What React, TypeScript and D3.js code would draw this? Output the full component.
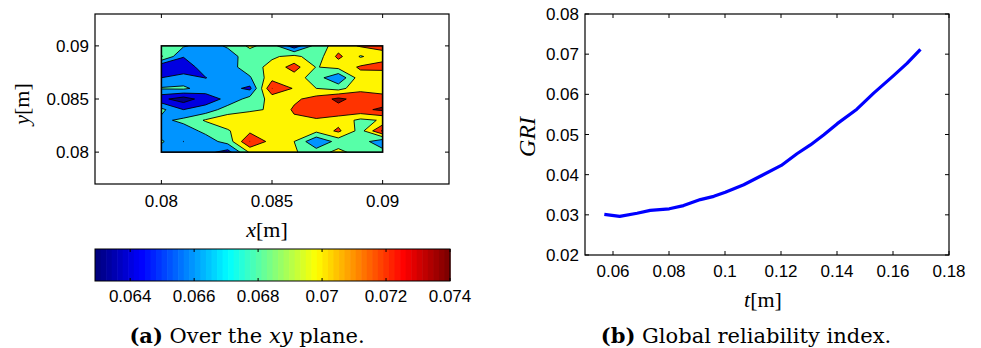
import React from 'react';
import * as d3 from 'd3';

// sample positions of the field over the plate (top row first)
const gridX = [0.08, 0.081, 0.082, 0.083, 0.084, 0.085, 0.086, 0.087, 0.088, 0.089, 0.09];
const gridY = [0.09, 0.089, 0.088, 0.087, 0.086, 0.085, 0.084, 0.083, 0.082, 0.081, 0.08];

// reliability index, one row per y (top to bottom)
const fieldRows = [
  [0.069, 0.0682, 0.0673, 0.0682, 0.0704, 0.069, 0.0648, 0.0688, 0.071, 0.0722, 0.0726],
  [0.0702, 0.0661, 0.0668, 0.0673, 0.0688, 0.0697, 0.0706, 0.0688, 0.0725, 0.0698, 0.0712],
  [0.064, 0.0648, 0.067, 0.0672, 0.069, 0.0707, 0.0728, 0.0699, 0.0706, 0.0723, 0.0728],
  [0.066, 0.0667, 0.06595, 0.067, 0.0678, 0.0712, 0.0711, 0.0689, 0.0663, 0.0712, 0.0702],
  [0.0682, 0.0684, 0.067, 0.0668, 0.0655, 0.07402, 0.0718, 0.07, 0.0692, 0.0715, 0.0712],
  [0.0645, 0.063, 0.065, 0.0665, 0.0688, 0.0706, 0.0716, 0.0728, 0.0745, 0.0731, 0.0727],
  [0.0685, 0.066, 0.0668, 0.069, 0.0697, 0.0702, 0.0723, 0.073, 0.0732, 0.0735, 0.0744],
  [0.0675, 0.0685, 0.0702, 0.0712, 0.0713, 0.071, 0.0716, 0.0718, 0.0712, 0.0695, 0.0702],
  [0.0668, 0.067, 0.0685, 0.0698, 0.0715, 0.071, 0.0705, 0.0705, 0.0724, 0.0692, 0.0743],
  [0.0683, 0.06598, 0.067, 0.0688, 0.07402, 0.0712, 0.07, 0.0662, 0.0688, 0.069, 0.0665],
  [0.0668, 0.0672, 0.0667, 0.0652, 0.0703, 0.071, 0.0702, 0.069, 0.0706, 0.069, 0.0688],
];
const contourLevels = [0.064, 0.066, 0.068, 0.07, 0.072, 0.074];
const colorLimits = [0.0629, 0.074];
const colorbarTicks = [0.064, 0.066, 0.068, 0.07, 0.072, 0.074];
const planeTicks = [0.08, 0.085, 0.09];

// global reliability index against thickness
const tValues = [0.0569, 0.0624, 0.0686, 0.0733, 0.0801, 0.0852, 0.0912, 0.096, 0.1001, 0.1067, 0.1126,
  0.1201, 0.1257, 0.1305, 0.1352, 0.1401, 0.1471, 0.1531, 0.1601, 0.165, 0.1698];
const griValues = [0.0301, 0.0296, 0.0304, 0.0311, 0.0315, 0.0323, 0.0338, 0.0346, 0.0356, 0.0375, 0.0396,
  0.0423, 0.0452, 0.0474, 0.0499, 0.0527, 0.0563, 0.0603, 0.0646, 0.0677, 0.0712];
const tTicks = [0.06, 0.08, 0.1, 0.12, 0.14, 0.16, 0.18];
const griTicks = [0.02, 0.03, 0.04, 0.05, 0.06, 0.07, 0.08];

const SANS = '"Liberation Sans", Arial, sans-serif';
const SERIF = '"Liberation Serif", "Times New Roman", serif';
const CAPTION = '"DejaVu Serif", serif';
const fmt = (v: number) => String(+v.toFixed(4));

// matlab jet, 64 entries
const jet = (t: number) => {
  const c = (v: number) => Math.round(255 * Math.max(0, Math.min(1, v)));
  return `rgb(${c(Math.min(4 * t - 1.5, -4 * t + 4.5))},${c(Math.min(4 * t - 0.5, -4 * t + 3.5))},${c(Math.min(4 * t + 0.5, -4 * t + 2.5))})`;
};
const cmap = (v: number) => {
  const t = (v - colorLimits[0]) / (colorLimits[1] - colorLimits[0]);
  const idx = Math.max(0, Math.min(63, Math.floor(t * 64)));
  return jet(idx / 63);
};

const App = () => {
  const tick = 4;

  // left panel
  const xL = d3.scaleLinear().domain([0.077, 0.093]).range([95, 449]);
  const yL = d3.scaleLinear().domain([0.077, 0.093]).range([184, 14]);
  const n = gridX.length;
  const m = gridY.length;
  const colPx = d3.scaleLinear().domain([0.5, n - 0.5]).range([xL(gridX[0]), xL(gridX[n - 1])]);
  const rowPx = d3.scaleLinear().domain([0.5, m - 0.5]).range([yL(gridY[0]), yL(gridY[m - 1])]);
  const geo = d3.geoPath(d3.geoTransform({
    point(x: number, y: number) { (this as any).stream.point(colPx(x), rowPx(y)); },
  }));
  const bands = d3.contours().size([n, m]).thresholds([colorLimits[0], ...contourLevels])(fieldRows.flat());

  // colorbar
  const cb = d3.scaleLinear().domain(colorLimits).range([95, 450]);
  const cbTop = 249;
  const cbBottom = 281;
  const steps = d3.range(64);

  // right panel
  const xR = d3.scaleLinear().domain([0.05, 0.18]).range([585, 949]);
  const yR = d3.scaleLinear().domain([0.02, 0.08]).range([255, 14]);
  const line = d3.line<number>().x((_, i) => xR(tValues[i])).y(d => yR(d));

  return (
    <svg width={981} height={348} style={{ position: 'absolute', left: 0, top: 0, background: '#fff' }}>
      <defs>
        <clipPath id="plate">
          <rect x={xL(0.08)} y={yL(0.09)} width={xL(0.09) - xL(0.08)} height={yL(0.08) - yL(0.09)} />
        </clipPath>
      </defs>

      {/* contour map */}
      <g clipPath="url(#plate)">
        {bands.map((b, i) => (
          <path key={i} d={geo(b as any) || ''} fill={cmap(b.value)}
            stroke={i === 0 ? 'none' : '#000'} strokeWidth={0.9} strokeLinejoin="round" />
        ))}
      </g>
      <rect x={xL(0.08)} y={yL(0.09)} width={xL(0.09) - xL(0.08)} height={yL(0.08) - yL(0.09)}
        fill="none" stroke="#000" strokeWidth={1.6} />

      {/* left axes */}
      <rect x={95} y={14} width={354} height={170} fill="none" stroke="#000" strokeWidth={1.2} />
      {planeTicks.map(v => (
        <g key={'x' + v}>
          <line x1={xL(v)} x2={xL(v)} y1={184} y2={184 - tick} stroke="#000" />
          <line x1={xL(v)} x2={xL(v)} y1={14} y2={14 + tick} stroke="#000" />
          <text x={xL(v)} y={207} textAnchor="middle" fontFamily={SANS} fontSize={17}>{fmt(v)}</text>
        </g>
      ))}
      {planeTicks.map(v => (
        <g key={'y' + v}>
          <line x1={95} x2={95 + tick} y1={yL(v)} y2={yL(v)} stroke="#000" />
          <line x1={449} x2={449 - tick} y1={yL(v)} y2={yL(v)} stroke="#000" />
          <text x={89} y={yL(v) + 6} textAnchor="end" fontFamily={SANS} fontSize={17}>{fmt(v)}</text>
        </g>
      ))}
      <text x={267} y={237} textAnchor="middle" fontFamily={SERIF} fontSize={22}>
        <tspan fontStyle="italic">x</tspan>[m]
      </text>
      <text transform="translate(29,104) rotate(-90)" textAnchor="middle" fontFamily={SERIF} fontSize={22}>
        <tspan fontStyle="italic">y</tspan>[m]
      </text>

      {/* colorbar */}
      {steps.map(i => (
        <rect key={i} x={cb(colorLimits[0] + (i * (colorLimits[1] - colorLimits[0])) / 64)} y={cbTop}
          width={(cb(colorLimits[1]) - cb(colorLimits[0])) / 64 + 0.6} height={cbBottom - cbTop}
          fill={jet(i / 63)} />
      ))}
      <rect x={95} y={cbTop} width={355} height={cbBottom - cbTop} fill="none" stroke="#000" strokeWidth={1} />
      {colorbarTicks.map(v => (
        <g key={'c' + v}>
          <line x1={cb(v)} x2={cb(v)} y1={cbTop} y2={cbTop + 3} stroke="#000" />
          <line x1={cb(v)} x2={cb(v)} y1={cbBottom} y2={cbBottom - 3} stroke="#000" />
          <text x={cb(v)} y={302} textAnchor="middle" fontFamily={SANS} fontSize={17}>{fmt(v)}</text>
        </g>
      ))}
      <text x={247} y={343} textAnchor="middle" fontFamily={CAPTION} fontSize={21}>
        <tspan fontWeight="bold">(a)</tspan> Over the <tspan fontStyle="italic">xy</tspan> plane.
      </text>

      {/* right axes */}
      <rect x={585} y={14} width={364} height={241} fill="none" stroke="#000" strokeWidth={1.2} />
      {tTicks.map(v => (
        <g key={'t' + v}>
          <line x1={xR(v)} x2={xR(v)} y1={255} y2={255 - tick} stroke="#000" />
          <line x1={xR(v)} x2={xR(v)} y1={14} y2={14 + tick} stroke="#000" />
          <text x={xR(v)} y={277} textAnchor="middle" fontFamily={SANS} fontSize={17}>{fmt(v)}</text>
        </g>
      ))}
      {griTicks.map(v => (
        <g key={'g' + v}>
          <line x1={585} x2={585 + tick} y1={yR(v)} y2={yR(v)} stroke="#000" />
          <line x1={949} x2={949 - tick} y1={yR(v)} y2={yR(v)} stroke="#000" />
          <text x={579} y={yR(v) + 6} textAnchor="end" fontFamily={SANS} fontSize={17}>{fmt(v)}</text>
        </g>
      ))}
      <path d={line(griValues) || ''} fill="none" stroke="#0000ff" strokeWidth={3.2} strokeLinejoin="round" />
      <text x={763} y={307} textAnchor="middle" fontFamily={SERIF} fontSize={22}>
        <tspan fontStyle="italic">t</tspan>[m]
      </text>
      <text transform="translate(535,137) rotate(-90)" textAnchor="middle" fontFamily={SERIF} fontSize={24}
        fontStyle="italic">GRI</text>
      <text x={746} y={343} textAnchor="middle" fontFamily={CAPTION} fontSize={21}>
        <tspan fontWeight="bold">(b)</tspan> Global reliability index.
      </text>
    </svg>
  );
};

export default App;
